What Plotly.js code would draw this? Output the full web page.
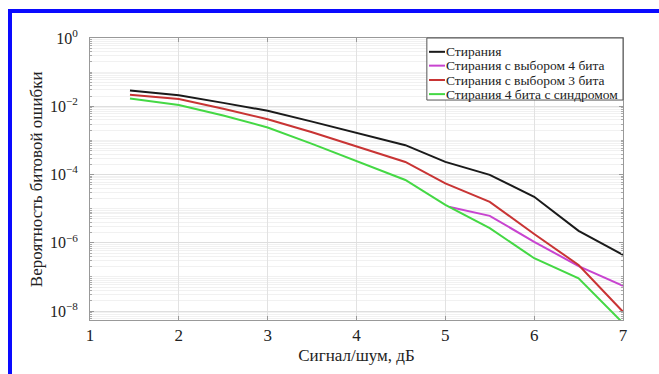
<!DOCTYPE html>
<html>
<head>
<meta charset="utf-8">
<script src="https://cdn.plot.ly/plotly-3.0.1.min.js"></script>
<style>
  html, body { margin: 0; padding: 0; background: #fff; }
  #chart { width: 659px; height: 374px; }
  #frame { position: absolute; left: 8px; top: 9px; width: 700px; height: 400px;
           border-left: 4px solid #0a0aff; border-top: 4px solid #0a0aff; pointer-events: none; }
</style>
</head>
<body>
<div id="chart"></div>
<div id="frame"></div>
<script>
// Signal/noise, dB
const snrMain = [1.45, 2, 2.5, 3, 3.5, 4, 4.55, 5, 5.5, 6, 6.5, 7];
const snrSel4 = [5.05, 5.5, 6, 6.5, 7];
// log10 of bit error probability
const logErasure   = [-1.54, -1.68, -1.90, -2.13, -2.45, -2.77, -3.14, -3.63, -4.01, -4.65, -5.65, -6.35];
const logSel4      = [-4.95, -5.21, -5.97, -6.68, -7.26];
const logSel3      = [-1.66, -1.79, -2.07, -2.38, -2.76, -3.18, -3.63, -4.26, -4.80, -5.74, -6.65, -8.02];
const logSyndrome4 = [-1.77, -1.96, -2.27, -2.62, -3.10, -3.60, -4.16, -4.89, -5.57, -6.45, -7.04, -8.35];
const names = ['Стирания', 'Стирания с выбором 4 бита', 'Стирания с выбором 3 бита', 'Стирания 4 бита с синдромом'];
const colors = ['#1a1a1a', '#c844d0', '#c83434', '#44d844'];
// y tick labels
const yTickVals = [1, 1e-2, 1e-4, 1e-6, 1e-8];
const yTickText = ['10<sup>0</sup>', '10<sup>−2</sup>', '10<sup>−4</sup>', '10<sup>−6</sup>', '10<sup>−8</sup>'];
const xTitle = 'Сигнал/шум, дБ';
const yTitle = 'Вероятность битовой ошибки';

const toVal = a => a.map(v => Math.pow(10, v));
const traces = [
  {x: snrMain, y: toVal(logErasure)},
  {x: snrSel4, y: toVal(logSel4)},
  {x: snrMain, y: toVal(logSel3)},
  {x: snrMain, y: toVal(logSyndrome4)}
].map((t, i) => Object.assign(t, {
  type: 'scatter', mode: 'lines', name: names[i], showlegend: false,
  line: {color: colors[i], width: 2}
}));

const serif = '"Liberation Serif", serif';

// compact legend (box, line samples, labels) in plot-area paper coords
const legX0 = 0.632, legY1 = 1, legY0 = 0.78;
const rowY = [0.951, 0.902, 0.851, 0.801];
const shapes = [{
  type: 'rect', xref: 'paper', yref: 'paper', x0: legX0, x1: 1, y0: legY0, y1: legY1,
  line: {color: '#555', width: 1}, fillcolor: '#ffffff', layer: 'above'
}];
const annotations = [];
names.forEach((n, i) => {
  shapes.push({type: 'line', xref: 'paper', yref: 'paper', x0: legX0 + 0.004, x1: legX0 + 0.034,
    y0: rowY[i], y1: rowY[i], line: {color: colors[i], width: 2}, layer: 'above'});
  annotations.push({xref: 'paper', yref: 'paper', x: legX0 + 0.033, y: rowY[i], xanchor: 'left', yanchor: 'middle',
    text: n, showarrow: false, font: {family: serif, size: 13.5, color: '#222'}});
});
// y-axis title
annotations.push({xref: 'paper', yref: 'paper', x: -0.101, y: 0.5, xanchor: 'center', yanchor: 'middle',
  textangle: -90, text: yTitle, showarrow: false, font: {family: serif, size: 17, color: '#222'}});

const layout = {
  width: 659, height: 374,
  margin: {l: 90, r: 36, t: 38, b: 54},
  paper_bgcolor: '#ffffff', plot_bgcolor: '#ffffff',
  font: {family: serif, color: '#222', size: 16},
  showlegend: false,
  shapes: shapes,
  annotations: annotations,
  xaxis: {
    range: [1, 7], dtick: 1, tick0: 1,
    showgrid: true, gridcolor: '#e2e2e2', gridwidth: 1,
    zeroline: false, showline: true, linecolor: '#999', mirror: 'allticks',
    ticks: 'inside', ticklen: 4, tickcolor: '#999',
    tickfont: {family: serif, size: 17, color: '#222'},
    title: {text: xTitle, font: {family: serif, size: 17, color: '#222'}, standoff: 4}
  },
  yaxis: {
    type: 'log', range: [-8.26, 0],
    tickmode: 'array', tickvals: yTickVals, ticktext: yTickText,
    showgrid: true, gridcolor: '#dedede', gridwidth: 1,
    zeroline: false, showline: true, linecolor: '#999', mirror: 'allticks',
    ticks: 'inside', ticklen: 4, tickcolor: '#999',
    ticklabelstandoff: 8,
    tickfont: {family: serif, size: 16, color: '#222'},
    minor: {dtick: 'D1', showgrid: true, gridcolor: '#f1f1f1', ticks: 'inside', ticklen: 2, tickcolor: '#aaa'}
  }
};

Plotly.newPlot('chart', traces, layout, {displayModeBar: false, staticPlot: true});
</script>
</body>
</html>
